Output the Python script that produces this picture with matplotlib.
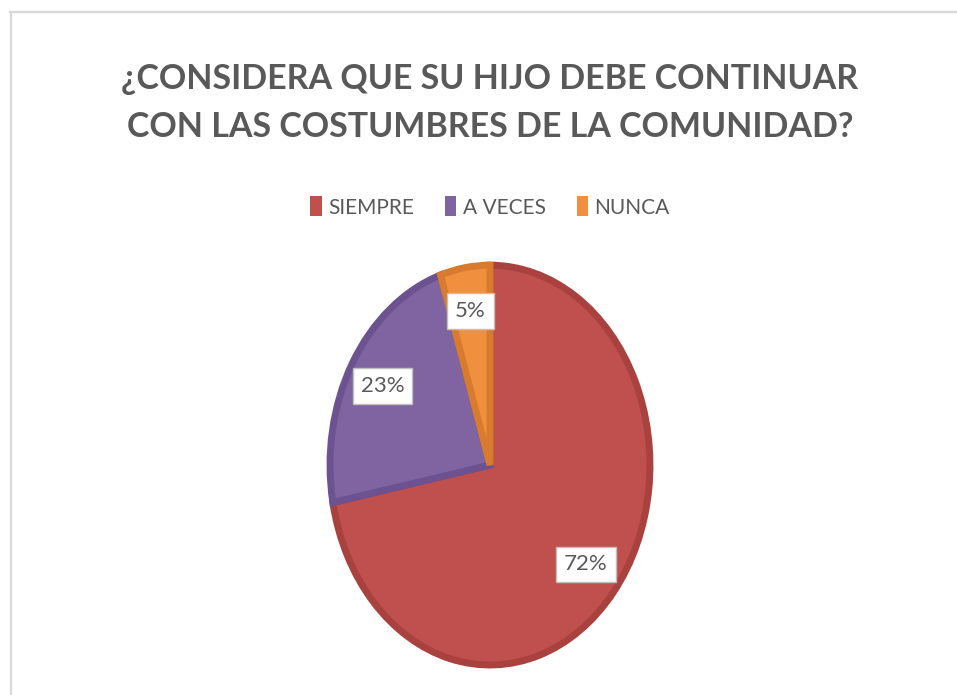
import matplotlib
matplotlib.use("Agg")
import matplotlib.pyplot as plt
from matplotlib.patches import Patch
from matplotlib.lines import Line2D

# data
categorias = ["SIEMPRE", "A VECES", "NUNCA"]
valores = [72, 23, 5]
colores = ["#C0504D", "#8064A2", "#F0903F"]
bordes = ["#A9423F", "#6C5290", "#D97B2E"]

titulo = "¿CONSIDERA QUE SU HIJO DEBE CONTINUAR\nCON LAS COSTUMBRES DE LA COMUNIDAD?"
gris = "#595959"

plt.rcParams["font.family"] = ["Lato", "DejaVu Sans"]

fig = plt.figure(figsize=(9.57, 6.95), dpi=100)

# chart area border (top and left only, as in the picture)
fig.add_artist(Line2D([10 / 957, 1], [1 - 12 / 695, 1 - 12 / 695],
                      transform=fig.transFigure, color="#D9D9D9", lw=1.6))
fig.add_artist(Line2D([11 / 957, 11 / 957], [0, 1 - 12 / 695],
                      transform=fig.transFigure, color="#D9D9D9", lw=1.6))

fig.text(0.512, 1 - 103 / 695, titulo, ha="center", va="center",
         fontsize=24.5, fontweight="bold", color=gris, linespacing=1.65)

ax = fig.add_axes([0.3365, 0.0288, 0.351, 0.604])
wedges, texts, autotexts = ax.pie(
    valores, colors=colores, startangle=90, counterclock=False,
    autopct="%1.0f%%", pctdistance=0.78,
    wedgeprops=dict(linewidth=5),
    textprops=dict(fontsize=16, color=gris))
for w, b in zip(wedges, bordes):
    w.set_edgecolor(b)
for t in autotexts:
    t.set_bbox(dict(boxstyle="square,pad=0.35", fc="white", ec="#BFBFBF", lw=1))
ax.set_aspect("auto")
ax.set_xlim(-1.05, 1.05)
ax.set_ylim(-1.05, 1.05)
ax.axis("off")

handles = [Patch(facecolor=c, edgecolor="none") for c in colores]
fig.legend(handles, categorias, loc="center", bbox_to_anchor=(0.512, 1 - 207 / 695),
           ncol=3, frameon=False, fontsize=15, labelcolor=gris,
           handlelength=0.55, handleheight=1.1, handletextpad=0.3,
           columnspacing=1.5)

fig.savefig("out.png", dpi=100)
